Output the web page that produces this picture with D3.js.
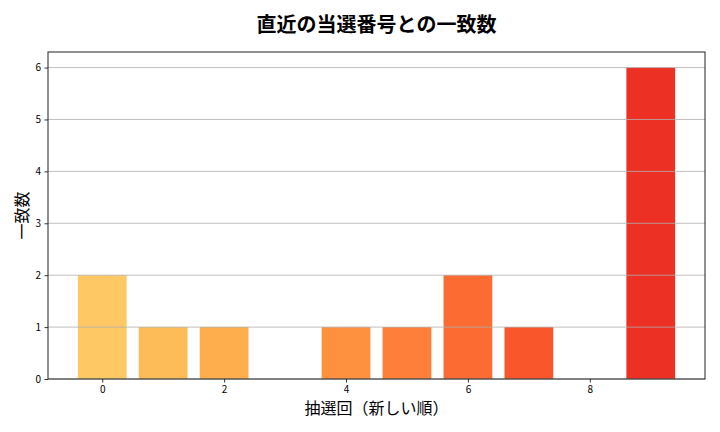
<!DOCTYPE html>
<html><head><meta charset="utf-8">
<script src="https://cdn.jsdelivr.net/npm/d3@7"></script>
<style>body{margin:0;background:#fff}</style>
</head><body>
<svg id="c" width="720" height="432"></svg>
<script>
const draws = [0,1,2,3,4,5,6,7,8,9];
const matches = [2,1,1,0,1,1,2,1,0,6];
const xTicks = [0,2,4,6,8];
const yTicks = [0,1,2,3,4,5,6];
const title = "直近の当選番号との一致数";
const xLabel = "抽選回（新しい順）";
const yLabel = "一致数";

const svg = d3.select("#c");
const font = "'Noto Sans CJK JP','Noto Sans',sans-serif";
const L=48,R=705,T=52,B=379;
const x = d3.scaleLinear().domain([-0.89,9.89]).range([L,R]);
const y = d3.scaleLinear().domain([0,6.3]).range([B,T]);
const col = d3.scaleLinear().domain([0,9]).range([0.3,0.7]);

const bw = x(0.8)-x(0);
svg.append("g").selectAll("rect").data(draws).join("rect")
  .attr("x",d=>x(d-0.4)).attr("width",bw)
  .attr("y",(d,i)=>y(matches[i])).attr("height",(d,i)=>y(0)-y(matches[i]))
  .attr("fill",d=>d3.interpolateYlOrRd(col(d)));

svg.append("g").selectAll("line").data(yTicks).join("line")
  .attr("x1",L).attr("x2",R).attr("y1",d=>y(d)).attr("y2",d=>y(d))
  .attr("stroke","#b0b0b0").attr("stroke-width",0.8);

const ax = svg.append("g").attr("transform",`translate(0,${B})`)
  .call(d3.axisBottom(x).tickValues(xTicks).tickSize(3.5).tickPadding(3.5).tickFormat(d3.format("d")));
const ay = svg.append("g").attr("transform",`translate(${L},0)`)
  .call(d3.axisLeft(y).tickValues(yTicks).tickSize(3.5).tickPadding(3.5).tickFormat(d3.format("d")));
[ax,ay].forEach(a=>{a.select(".domain").remove();
  a.selectAll("text").attr("font-family",font).attr("font-size",10).attr("fill","#000");
  a.selectAll("line").attr("stroke","#000").attr("stroke-width",0.8);});

svg.append("rect").attr("x",L).attr("y",T).attr("width",R-L).attr("height",B-T)
  .attr("fill","none").attr("stroke","#222").attr("stroke-width",1);

svg.append("text").attr("x",(L+R)/2).attr("y",32).attr("text-anchor","middle")
  .attr("font-family",font).attr("font-size",20).attr("font-weight","bold").text(title);
svg.append("text").attr("x",(L+R)/2).attr("y",414).attr("text-anchor","middle")
  .attr("font-family",font).attr("font-size",16).text(xLabel);
svg.append("text").attr("transform",`translate(28,${(T+B)/2}) rotate(-90)`).attr("text-anchor","middle")
  .attr("font-family",font).attr("font-size",16).text(yLabel);
</script>
</body></html>
